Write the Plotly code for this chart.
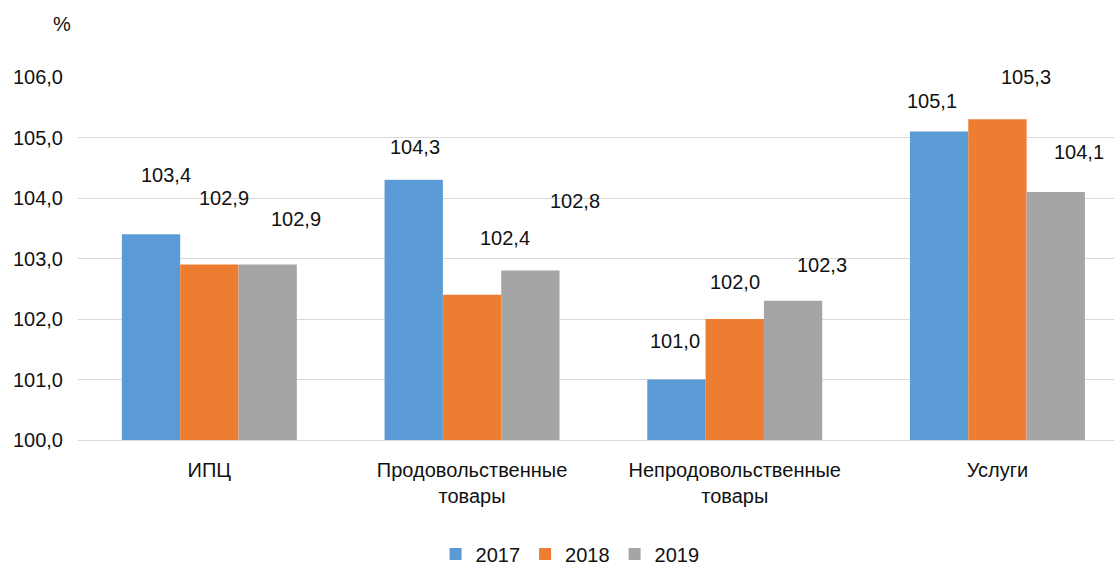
import plotly.graph_objects as go

# Индексы цен, % к предыдущему году
categories = ["ИПЦ", "Продовольственные<br>товары", "Непродовольственные<br>товары", "Услуги"]
years = ["2017", "2018", "2019"]
values_2017 = [103.4, 104.3, 101.0, 105.1]
values_2018 = [102.9, 102.4, 102.0, 105.3]
values_2019 = [102.9, 102.8, 102.3, 104.1]
y_ticks = [100, 101, 102, 103, 104, 105, 106]

series = [values_2017, values_2018, values_2019]
colors = ["#5B9BD5", "#ED7D31", "#A5A5A5"]

# hand-placed value labels: (dx, dy) in px relative to each bar's top centre
label_offsets = [
    [(15, 59), (15, 67), (28, 46)],
    [(1, 33), (33, 57), (45, 70)],
    [(-1, 39), (0, 37), (29, 36)],
    [(-7, 30), (29, 42), (23, 40)],
]

FONT = "Liberation Sans, Arial, sans-serif"
TEXT = "#111111"
FS = 20
BARGAP = 0.334

fig = go.Figure()
for name, vals, col in zip(years, series, colors):
    fig.add_trace(go.Bar(
        name=name, x=list(range(len(categories))), y=[v - 100 for v in vals],
        base=100, marker=dict(color=col, line=dict(width=0)),
        hoverinfo="skip",
    ))

# value labels
n = len(years)
slot = (1 - BARGAP) / n
for ci in range(len(categories)):
    for si, vals in enumerate(series):
        dx, dy = label_offsets[ci][si]
        xc = ci - (1 - BARGAP) / 2 + slot * (si + 0.5)
        fig.add_annotation(
            x=xc, y=vals[ci], xref="x", yref="y",
            text=f"{vals[ci]:.1f}".replace(".", ","),
            showarrow=False, xanchor="center", yanchor="middle",
            xshift=dx, yshift=dy,
            font=dict(family=FONT, size=FS, color=TEXT),
        )

W, H = 1114, 565
L, T, B = 78, 77, 125
plot_w = W - L
plot_h = H - T - B
cat_px = 262.7

# unit label above the value axis
fig.add_annotation(
    xref="paper", yref="paper",
    x=(62 - L) / plot_w, y=1 + (T - 24.5) / plot_h,
    xanchor="center", yanchor="middle", text="%", showarrow=False,
    font=dict(family=FONT, size=FS, color=TEXT),
)

fig.update_layout(
    width=W, height=H,
    margin=dict(l=L, r=0, t=T, b=B, pad=0, autoexpand=False),
    paper_bgcolor="white", plot_bgcolor="white",
    barmode="group", bargap=BARGAP, bargroupgap=0,
    separators=", ",
    font=dict(family=FONT, size=FS, color=TEXT),
    showlegend=True,
    legend=dict(
        orientation="h", x=0.475, xanchor="center",
        yref="container", y=(H - 554) / H, yanchor="middle",
        font=dict(family=FONT, size=FS, color=TEXT),
        itemwidth=30, traceorder="normal",
    ),
    xaxis=dict(
        tickmode="array", tickvals=list(range(len(categories))), ticktext=categories,
        range=[-0.5, -0.5 + plot_w / cat_px], automargin=False,
        showgrid=False, zeroline=False, showline=True, linecolor="#d9d9d9", linewidth=1,
        ticks="", ticklabelstandoff=12,
        tickfont=dict(family=FONT, size=FS, color=TEXT),
    ),
    yaxis=dict(
        range=[100, 106], tickvals=y_ticks, tickformat=".1f", automargin=False,
        showgrid=True, gridcolor="#d9d9d9", gridwidth=1, zeroline=False,
        showline=False, ticks="", ticklabelstandoff=14,
        tickfont=dict(family=FONT, size=FS, color=TEXT),
    ),
)

fig.write_html("out.html")
